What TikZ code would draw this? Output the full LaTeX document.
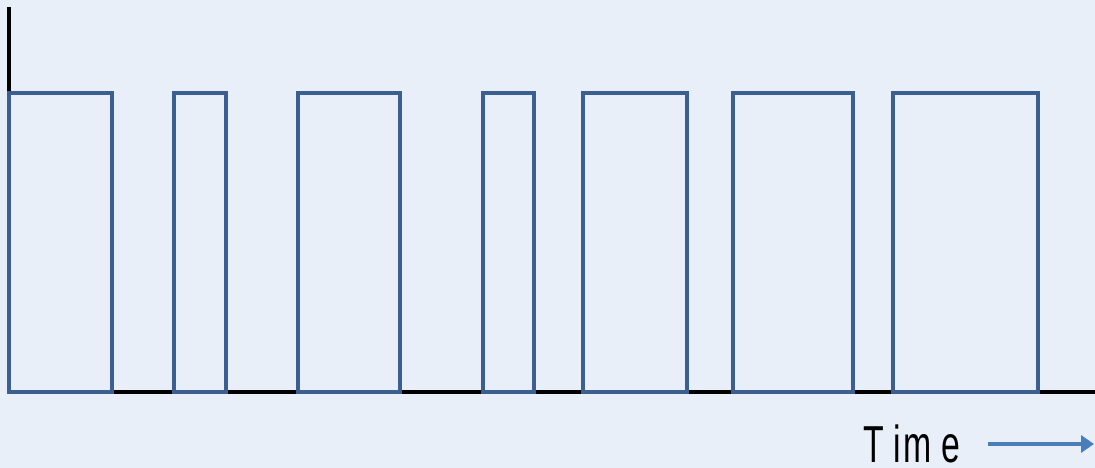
\documentclass[tikz,border=0pt]{standalone}
\usepackage{fontspec}
\setmainfont{Liberation Sans}
\usetikzlibrary{arrows.meta}
\definecolor{bg}{HTML}{E8EFF9}
\definecolor{pulse}{HTML}{3A5F90}
\definecolor{arrowc}{HTML}{4A7EBB}
\newcommand{\nl}[2]{\makebox[#1][c]{\scalebox{0.65}[1]{#2}}}
\begin{document}
\begin{tikzpicture}[x=1pt,y=-1pt,
  axis/.style={black,line width=4pt},
  pulseline/.style={pulse,line width=4pt,line join=miter},
  timearrow/.style={arrowc,line width=4pt,-{Triangle[length=13pt,width=17pt]}}]
\fill[bg] (0,0) rectangle (1095,468);
\useasboundingbox (0,0) rectangle (1095,468);
% axes
\draw[axis] (9,7) -- (9,392);
\draw[axis] (9,392) -- (1095,392);
% pulses
\foreach \a/\b in {9/112,174/226,298/400,483/534,583/687,733/853,893/1038}{
  \draw[pulseline] (\a,392) -- (\a,93) -- (\b,93) -- (\b,392) -- cycle;
}
% label
\node[anchor=base west,inner sep=0pt,font=\fontsize{52}{60}\selectfont] (time) at (865,462)
  {\raisebox{0pt}[\height][0pt]{\nl{18pt}{T}\hspace{11pt}\nl{6pt}{i}\hspace{5pt}\nl{25pt}{m}\hspace{10pt}\nl{22pt}{e}}};
\coordinate (arrs) at (988,444);
\coordinate (arre) at (1094,444);
\draw[timearrow] (arrs) -- (arre);
\end{tikzpicture}
\end{document}
